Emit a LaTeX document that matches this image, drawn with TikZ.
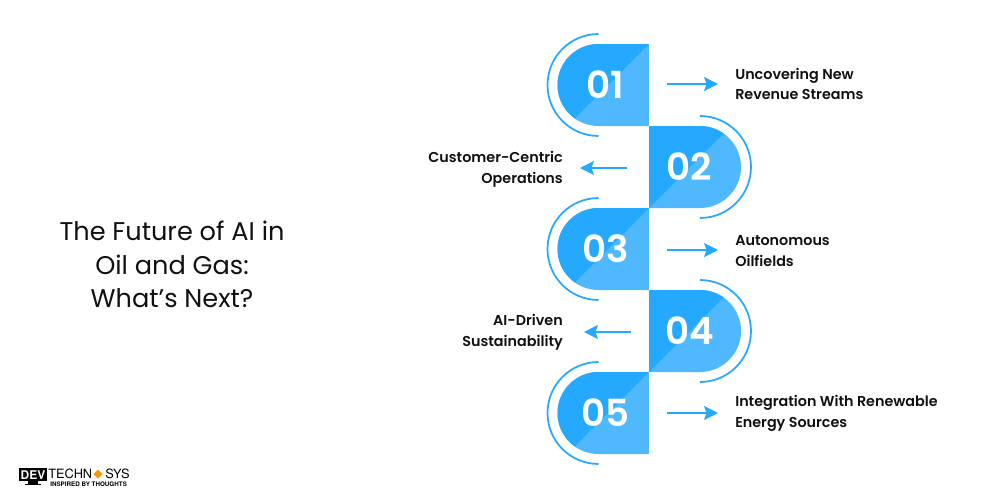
\documentclass[tikz,border=0pt]{standalone}
\usepackage{fontspec}
\setmainfont{Poppins}
\newfontfamily\lblfont{Poppins SemiBold}
\newfontfamily\numfont{Poppins SemiBold}
\newfontfamily\heros{TeX Gyre Heros}
\usetikzlibrary{arrows.meta}
\definecolor{bdark}{HTML}{24A9FF}
\definecolor{blight}{HTML}{4FB8FF}
\definecolor{ink}{HTML}{111111}
\tikzset{
  x=0.75pt,y=-0.75pt,
  arcline/.style={draw=bdark,line width=1.3pt},
  flow/.style={draw=bdark,line width=1.25pt,-{Stealth[length=10.5pt,width=10.5pt,inset=2pt]}},
  num/.style={text=white,font=\numfont\fontsize{28}{28}\selectfont,inner sep=0pt},
  lbl/.style={text=ink,font=\lblfont\fontsize{10.75}{15.6}\selectfont,inner sep=0pt},
  title/.style={text=ink,font=\fontsize{19.2}{25.1}\selectfont,inner sep=0pt,align=center}
}
% #1 centre y, #2 name, #3 number: pill rounded to the left
\newcommand{\leftpill}[3]{
  \begin{scope}
    \clip (649,#1-41) -- (598.5,#1-41) arc[start angle=270,end angle=90,radius=41] -- (649,#1+41) -- cycle;
    \fill[blight] (540,#1-50) rectangle (649,#1+50);
    \fill[bdark] (649,#1-41) -- (560,#1+48) -- (540,#1+48) -- (540,#1-50) -- (649,#1-50) -- cycle;
  \end{scope}
  \draw[arcline] (598.5,#1-51) arc[start angle=270,end angle=90,radius=51];
  \node[num] (#2) at (605.5,#1) {#3};
}
% pill rounded to the right
\newcommand{\rightpill}[3]{
  \begin{scope}
    \clip (649,#1-41) -- (700,#1-41) arc[start angle=-90,end angle=90,radius=41] -- (649,#1+41) -- cycle;
    \fill[blight] (649,#1-50) rectangle (760,#1+50);
    \fill[bdark] (649,#1+41) -- (740,#1-50) -- (649,#1-50) -- cycle;
  \end{scope}
  \draw[arcline] (700,#1-51) arc[start angle=-90,end angle=90,radius=51];
  \node[num] (#2) at (689.5,#1) {#3};
}
\begin{document}
\begin{tikzpicture}
\useasboundingbox (0,0) rectangle (1000,500);
\fill[white] (0,0) rectangle (1000,500);

\node[title] (t) at (172,264.5) {The Future of AI in\\Oil and Gas:\\What’s Next?};

\leftpill{85}{n1}{01}
\rightpill{167}{n2}{02}
\leftpill{249}{n3}{03}
\rightpill{331}{n4}{04}
\leftpill{413}{n5}{05}

\node[lbl,anchor=west,align=left] (l1) at (735,84) {Uncovering New\\Revenue Streams};
\node[lbl,anchor=east,align=right] (l2) at (563,169.5) {Customer-Centric\\Operations};
\node[lbl,anchor=west,align=left] (l3) at (735,251) {Autonomous\\Oilfields};
\node[lbl,anchor=east,align=right] (l4) at (563,332) {AI-Driven\\Sustainability};
\node[lbl,anchor=west,align=left] (l5) at (735,413) {Integration With Renewable\\Energy Sources};

\coordinate (a1s) at (667,84);  \coordinate (a1e) at (718,84);
\coordinate (a2s) at (627,168); \coordinate (a2e) at (580,168);
\coordinate (a3s) at (667,250); \coordinate (a3e) at (718,250);
\coordinate (a4s) at (631,332); \coordinate (a4e) at (584,332);
\coordinate (a5s) at (667,413); \coordinate (a5e) at (718,413);
\foreach \i in {1,...,5} \draw[flow] (a\i s) -- (a\i e);

% logo
\fill[black] (19,468) rectangle (47,481);
\fill[black] (28,481) rectangle (38,483.5);
\fill[black] (25,483.5) rectangle (41,484.5);
\node[inner sep=0pt,text=white,font=\heros\bfseries\fontsize{9}{9}\selectfont] (dev) at (33,475) {DEV};
\node[inner sep=0pt,anchor=west,text=black,font=\heros\fontsize{9.6}{9.6}\selectfont] (tech) at (48,473.5) {TECHN};
\fill[orange!85!yellow] (98,469.5) -- (102.5,474) -- (98,478.5) -- (93.5,474) -- cycle;
\node[inner sep=0pt,anchor=west,text=black,font=\heros\fontsize{9.6}{9.6}\selectfont] (sys) at (105,473.5) {SYS};
\node[inner sep=0pt,anchor=west,text=black,font=\heros\bfseries\fontsize{4.7}{4.7}\selectfont] (tag) at (50,484) {INSPIRED BY THOUGHTS};
\end{tikzpicture}
\end{document}
